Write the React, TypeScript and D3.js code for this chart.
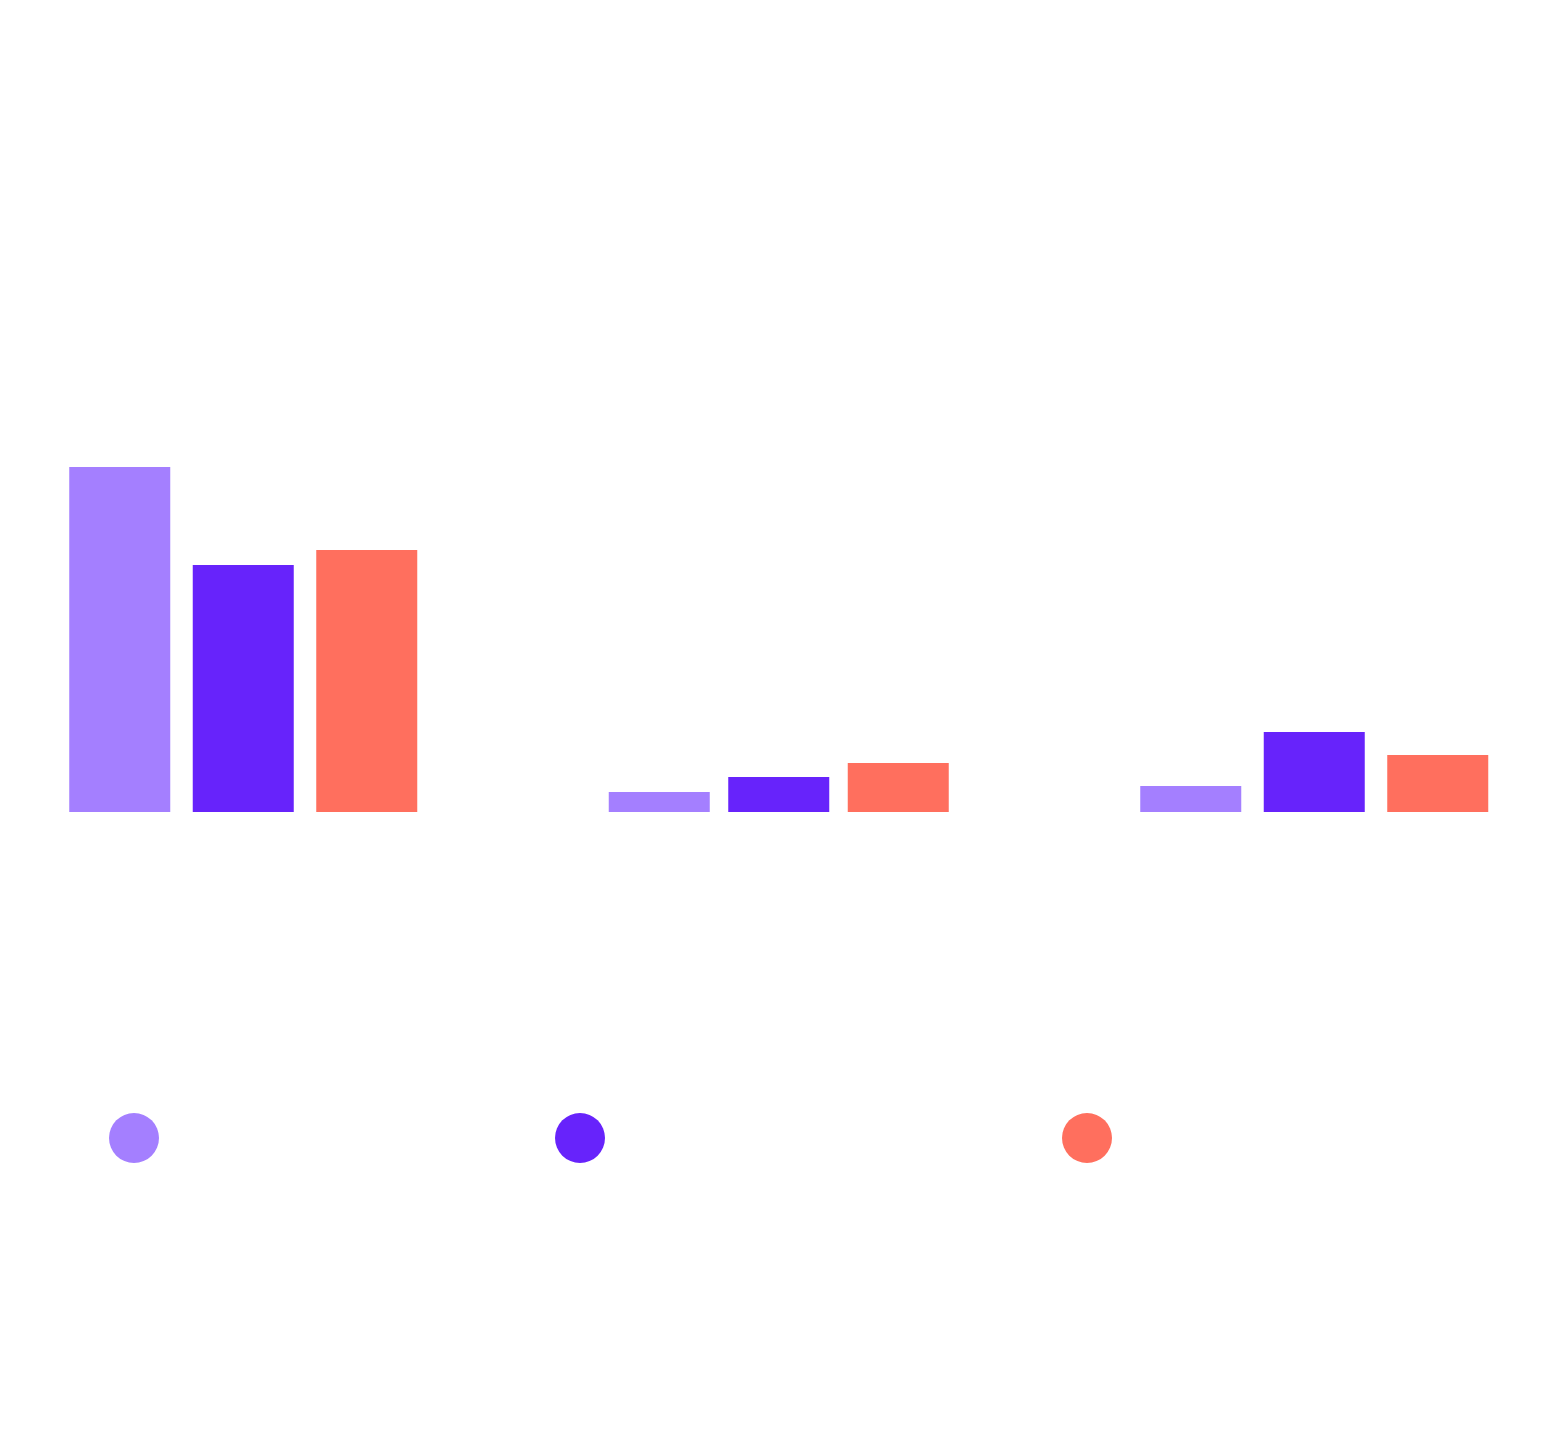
import React from "react";
import * as d3 from "d3";

const categories = ["A", "B", "C"];
const seriesNames = ["Series 1", "Series 2", "Series 3"];
const series1 = [345, 20, 26];
const series2 = [247, 35, 80];
const series3 = [262, 49, 57];
const colors = ["#a47fff", "#6723fb", "#ff6f5e"];
const legendX = [134, 580, 1087];
const groupWidths = [348, 340, 348];

const W = 1560;
const H = 1441;

export default function App() {
  const values = [series1, series2, series3];
  const x0 = d3.scaleBand<string>().domain(categories).range([-24.5, 1582]).padding(0);
  const y = d3.scaleLinear().domain([0, 500]).range([812, 312]);

  return (
    <svg width={W} height={H} style={{ position: "absolute", left: 0, top: 0, background: "#fff" }}>
      <rect x={0} y={0} width={W} height={H} fill="#fff" />
      {categories.map((c, ci) => {
        const groupW = groupWidths[ci];
        const cx = (x0(c) as number) + x0.bandwidth() / 2;
        const x1 = d3
          .scaleBand<string>()
          .domain(seriesNames)
          .range([cx - groupW / 2, cx + groupW / 2])
          .paddingInner((groupW - 3 * 101) / (groupW - 101))
          .paddingOuter(0);
        return (
          <g key={c}>
            {seriesNames.map((s, si) => (
              <rect
                key={s}
                x={x1(s) as number}
                y={y(values[si][ci])}
                width={x1.bandwidth()}
                height={y(0) - y(values[si][ci])}
                fill={colors[si]}
              />
            ))}
          </g>
        );
      })}
      {seriesNames.map((s, si) => (
        <g key={s}>
          <circle cx={legendX[si]} cy={1138} r={25} fill={colors[si]} />
          <text x={legendX[si] + 40} y={1146} fill="#fff" fontSize={24} fontFamily="Roboto">
            {s}
          </text>
        </g>
      ))}
    </svg>
  );
}
